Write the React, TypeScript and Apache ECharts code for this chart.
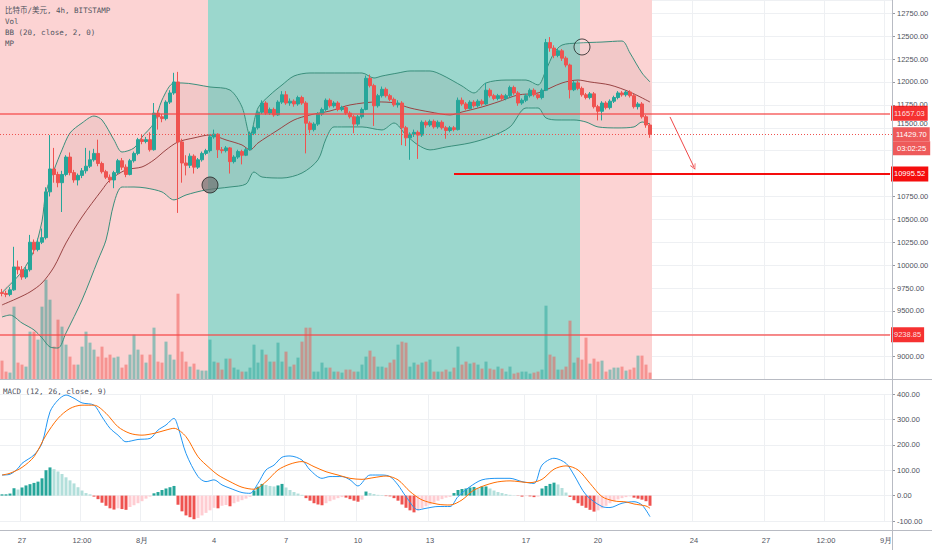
import React, { useEffect, useRef } from 'react';
import * as echarts from 'echarts';

// ---------- time axis (4h slots starting 2020-07-26 04:00) ----------
const START_UTC = Date.UTC(2020, 6, 26, 4);
const SLOT_COUNT = 223;
const CATEGORIES: string[] = Array.from({ length: SLOT_COUNT }, (_, i) => {
  const d = new Date(START_UTC + i * 4 * 3600 * 1000);
  return `${d.getUTCMonth() + 1}-${d.getUTCDate()} ${String(d.getUTCHours()).padStart(2, '0')}:00`;
});
const X_TICKS: [number, string][] = [
  [5, '27'], [20, '12:00'], [35, '8月'], [53, '4'], [71, '7'], [89, '10'], [107, '13'],
  [131, '17'], [149, '20'], [173, '24'], [191, '27'], [206, '12:00'], [221, '9月'],
];
// price ticks that sit fully under the price-tag boxes in the reference
const HIDDEN_PRICE_TICKS = [11000, 11250, 9250];
// price tick that peeks out just above a price tag
const LIFTED_PRICE_TICKS = [11500];

// ---------- candles: [open, close, low, high] ----------
const CANDLES: number[][] = [
  [9700, 9690, 9660, 9740], [9690, 9680, 9650, 9720], [9680, 9730, 9660, 9760], [9730, 9980, 9720, 10200],
  [9980, 9950, 9900, 10050], [9950, 9870, 9840, 9990], [9870, 9950, 9850, 9980], [9950, 10250, 9930, 10330],
  [10250, 10170, 10120, 10280], [10170, 10250, 10150, 10290], [10250, 10300, 10230, 10400], [10300, 10800, 10280, 10850],
  [10800, 11050, 10750, 11420], [11050, 10990, 10900, 11280], [10990, 10900, 10850, 11020], [10900, 10990, 10580, 11030],
  [10990, 11180, 10970, 11200], [11180, 11010, 10980, 11230], [11010, 10930, 10900, 11040], [10930, 10980, 10870, 11000],
  [10980, 11030, 10950, 11060], [11030, 11080, 11000, 11280], [11080, 11150, 11060, 11250], [11150, 11220, 11130, 11270],
  [11220, 11110, 11080, 11370], [11110, 11020, 11000, 11130], [11020, 10960, 10940, 11040], [10960, 10930, 10900, 10990],
  [10930, 11010, 10840, 11030], [11010, 11140, 10990, 11160], [11140, 11070, 11040, 11170], [11070, 10990, 10960, 11100],
  [10990, 11140, 10980, 11160], [11140, 11220, 11120, 11240], [11220, 11370, 11200, 11390], [11370, 11350, 11320, 11430],
  [11350, 11370, 11330, 11400], [11370, 11260, 11240, 11450], [11260, 11660, 11250, 11770], [11660, 11620, 11480, 11690],
  [11620, 11600, 11560, 11650], [11600, 11780, 11580, 11800], [11780, 11880, 11760, 11910], [11880, 12000, 11860, 12100],
  [12000, 11345, 10570, 12110], [11345, 11115, 10900, 11380], [11115, 11090, 10980, 11200], [11090, 11190, 11060, 11220],
  [11190, 11070, 11000, 11210], [11070, 11150, 11050, 11170], [11150, 11220, 11130, 11240], [11220, 11250, 11200, 11270],
  [11250, 11400, 11230, 11420], [11400, 11430, 11380, 11480], [11430, 11260, 11170, 11440], [11260, 11250, 11220, 11290],
  [11250, 11280, 11230, 11300], [11280, 11130, 11000, 11290], [11130, 11180, 11110, 11200], [11180, 11240, 11160, 11260],
  [11240, 11200, 11100, 11260], [11200, 11260, 11190, 11280], [11260, 11440, 11250, 11460], [11440, 11500, 11420, 11520],
  [11500, 11670, 11480, 11690], [11670, 11770, 11650, 11800], [11770, 11660, 11640, 11790], [11660, 11700, 11640, 11720],
  [11700, 11640, 11620, 11720], [11640, 11780, 11630, 11800], [11780, 11860, 11760, 11900], [11860, 11770, 11750, 11900],
  [11770, 11790, 11740, 11820], [11790, 11760, 11730, 11810], [11760, 11830, 11740, 11850], [11830, 11770, 11750, 11850],
  [11770, 11550, 11220, 11790], [11550, 11480, 11440, 11570], [11480, 11540, 11460, 11560], [11540, 11650, 11520, 11670],
  [11650, 11700, 11630, 11720], [11700, 11800, 11680, 11820], [11800, 11740, 11720, 11820], [11740, 11770, 11720, 11790],
  [11770, 11700, 11680, 11790], [11700, 11720, 11680, 11740], [11720, 11660, 11640, 11740], [11660, 11620, 11600, 11680],
  [11620, 11540, 11440, 11640], [11540, 11620, 11520, 11640], [11620, 11700, 11600, 11720], [11700, 12040, 11690, 12070],
  [12040, 11960, 11940, 12080], [11960, 11740, 11520, 11980], [11740, 11850, 11720, 11870], [11850, 11920, 11830, 11950],
  [11920, 11850, 11830, 11940], [11850, 11810, 11790, 11870], [11810, 11750, 11730, 11830], [11750, 11770, 11720, 11800],
  [11770, 11500, 11310, 11790], [11500, 11390, 11300, 11520], [11390, 11430, 11150, 11450], [11430, 11450, 11400, 11480],
  [11450, 11420, 11160, 11470], [11420, 11560, 11400, 11580], [11560, 11530, 11500, 11580], [11530, 11570, 11510, 11590],
  [11570, 11510, 11490, 11590], [11510, 11560, 11490, 11580], [11560, 11500, 11480, 11580], [11500, 11470, 11380, 11520],
  [11470, 11500, 11450, 11520], [11500, 11480, 11460, 11520], [11480, 11800, 11470, 11830], [11800, 11760, 11740, 11830],
  [11760, 11710, 11690, 11780], [11710, 11780, 11700, 11800], [11780, 11740, 11720, 11800], [11740, 11790, 11720, 11810],
  [11790, 11760, 11740, 11810], [11760, 11910, 11750, 11990], [11910, 11850, 11830, 11930], [11850, 11820, 11800, 11870],
  [11820, 11850, 11800, 11870], [11850, 11820, 11800, 11870], [11820, 11850, 11800, 11870], [11850, 11940, 11830, 11960],
  [11940, 11880, 11860, 11960], [11880, 11770, 11740, 11900], [11770, 11800, 11750, 11820], [11800, 11850, 11780, 11870],
  [11850, 11910, 11830, 11930], [11910, 11860, 11840, 11930], [11860, 11830, 11810, 11880], [11830, 11910, 11810, 11930],
  [11910, 12430, 11900, 12470], [12430, 12370, 12330, 12490], [12370, 12290, 12260, 12400], [12290, 12340, 12270, 12360],
  [12340, 12260, 12230, 12360], [12260, 12185, 12160, 12280], [12185, 11915, 11820, 12200], [11915, 11990, 11900, 12010],
  [11990, 11930, 11910, 12010], [11930, 11860, 11840, 11950], [11860, 11830, 11810, 11880], [11830, 11870, 11810, 11890],
  [11870, 11730, 11710, 11890], [11730, 11680, 11580, 11750], [11680, 11770, 11580, 11790], [11770, 11720, 11700, 11790],
  [11720, 11790, 11700, 11810], [11790, 11830, 11770, 11850], [11830, 11880, 11810, 11900], [11880, 11860, 11840, 11900],
  [11860, 11890, 11840, 11910], [11890, 11850, 11830, 11910], [11850, 11730, 11710, 11870], [11730, 11760, 11700, 11780],
  [11760, 11620, 11600, 11780], [11620, 11530, 11500, 11640], [11530, 11429.7, 11390, 11550],
];

// ---------- volume (BTC) ----------
const VOLUME: number[] = [
  475, 200, 175, 1825, 425, 375, 325, 1200, 1200, 1000,
  1825, 2500, 2000, 825, 1500, 1325, 875, 575, 375, 375,
  825, 1200, 925, 750, 575, 825, 550, 625, 550, 575,
  300, 375, 625, 1125, 750, 625, 425, 625, 1300, 450,
  425, 950, 625, 500, 2150, 700, 450, 325, 400, 250,
  225, 225, 1000, 450, 425, 250, 525, 525, 300, 250,
  200, 200, 300, 875, 425, 750, 625, 450, 450, 925,
  450, 700, 325, 375, 550, 950, 1300, 1300, 200, 200,
  425, 300, 300, 200, 200, 175, 250, 250, 200, 200,
  375, 575, 725, 575, 325, 325, 300, 425, 500, 875,
  950, 925, 325, 425, 375, 425, 450, 500, 200, 200,
  200, 250, 200, 300, 825, 375, 450, 400, 425, 375,
  275, 450, 275, 250, 325, 275, 200, 325, 150, 175,
  200, 200, 150, 175, 200, 250, 1850, 625, 575, 250,
  250, 325, 1475, 425, 550, 500, 1050, 400, 525, 450,
  475, 200, 250, 300, 300, 325, 225, 250, 300, 600,
  600, 375, 175,
];

// ---------- Bollinger bands (20, close, 2), read as [slot, price] ----------
const BB_UPPER: number[][] = [
  [0, 9700], [5, 9930], [8, 10160], [10, 10480], [11, 10800], [13, 11040], [15, 11258], [17, 11443],
  [20, 11552], [23, 11628], [25, 11585], [28, 11367], [30, 11235], [33, 11279], [35, 11399], [38, 11552],
  [40, 11803], [43, 11989], [45, 11989], [52, 11945], [57, 11912], [60, 11727], [62, 11421], [64, 11716],
  [67, 11858], [70, 11967], [73, 12065], [77, 12098], [82, 12098], [87, 12098], [90, 12098], [93, 12043],
  [95, 12065], [99, 12098], [102, 12120], [107, 12120], [110, 12076], [115, 11956], [118, 11880], [121, 11989],
  [126, 12021], [131, 12021], [134, 11967], [136, 12130], [138, 12316], [140, 12403], [144, 12425], [150, 12436],
  [155, 12447], [157, 12316], [160, 12098], [162, 12000],
];
const BB_MID: number[][] = [
  [0, 9565], [4, 9641], [7, 9707], [10, 9805], [13, 9980], [16, 10242], [20, 10526], [25, 10821],
  [27, 10930], [31, 11040], [35, 11072], [38, 11149], [41, 11258], [44, 11345], [48, 11389], [52, 11421],
  [56, 11367], [60, 11312], [62, 11258], [64, 11334], [69, 11476], [73, 11585], [77, 11640], [82, 11683],
  [87, 11749], [94, 11782], [98, 11771], [102, 11716], [107, 11672], [112, 11640], [115, 11672], [120, 11727],
  [124, 11782], [129, 11858], [134, 11880], [140, 11989], [144, 12021], [147, 12000], [152, 11967], [157, 11890],
  [162, 11781],
];
const BB_LOWER: number[][] = [
  [0, 9434], [2, 9455], [5, 9368], [8, 9292], [10, 9205], [12, 9106], [14, 9095], [16, 9259],
  [20, 9619], [24, 10056], [26, 10274], [28, 10678], [30, 10853], [33, 10853], [36, 10842], [40, 10799],
  [43, 10712], [46, 10766], [51, 10821], [57, 10853], [61, 10886], [63, 11017], [65, 10962], [70, 10951],
  [75, 11006], [79, 11150], [81, 11380], [83, 11509], [87, 11509], [90, 11509], [95, 11476], [98, 11552],
  [101, 11421], [104, 11312], [107, 11258], [111, 11290], [117, 11334], [122, 11399], [127, 11509], [131, 11716],
  [134, 11716], [136, 11607], [139, 11585], [143, 11585], [146, 11563], [149, 11509], [154, 11498], [158, 11509],
  [160, 11563], [162, 11540],
];

// ---------- MACD (12, 26, close, 9) ----------
const MACD_LINE: number[][] = [
  [0, 81], [2, 84], [4, 107], [5, 127], [8, 160], [10, 206], [12, 330], [14, 376], [16, 396], [18, 383],
  [20, 365], [23, 356], [25, 310], [27, 265], [29, 238], [31, 212], [34, 221], [37, 225], [39, 258], [41, 278],
  [43, 304], [44, 271], [46, 166], [49, 75], [51, 55], [53, 62], [55, 42], [57, 29], [60, 12], [62, 9],
  [64, 48], [66, 101], [68, 120], [70, 151], [72, 156], [75, 140], [77, 101], [80, 68], [82, 75], [85, 75],
  [87, 62], [89, 38], [92, 81], [95, 81], [97, 75], [99, 42], [101, -4], [104, -56], [106, -50], [109, -43],
  [112, -43], [114, -4], [117, 35], [120, 62], [124, 68], [127, 68], [130, 55], [133, 48], [135, 120], [138, 147],
  [141, 127], [143, 81], [146, 3], [150, -43], [152, -47], [155, -30], [158, -24], [160, -37], [162, -83],
];
const SIGNAL_LINE: number[][] = [
  [0, 81], [2, 88], [5, 111], [8, 153], [11, 238], [14, 304], [17, 343], [20, 356], [23, 356], [26, 324],
  [29, 271], [32, 245], [35, 238], [38, 245], [41, 258], [43, 265], [46, 232], [49, 153], [52, 107], [54, 81],
  [57, 55], [60, 33], [63, 25], [66, 55], [69, 101], [72, 124], [75, 134], [78, 114], [81, 94], [84, 81],
  [87, 68], [90, 64], [93, 71], [96, 77], [99, 62], [102, 16], [105, -17], [109, -34], [112, -37], [115, -17],
  [118, 22], [123, 51], [127, 58], [132, 51], [135, 64], [138, 104], [141, 117], [144, 101], [147, 48], [150, -4],
  [153, -21], [156, -25], [158, -33], [161, -41], [162, -50],
];
const MACD_HIST: number[] = [
  5, 5, 8, 29, 24, 32, 40, 45, 50, 55,
  68, 100, 111, 104, 95, 85, 72, 60, 48, 33,
  20, 10, 5, -4, -14, -28, -40, -50, -55, -50,
  -53, -56, -45, -38, -30, -22, -12, -4, 9, 14,
  22, 28, 33, 38, -36, -62, -78, -85, -93, -88,
  -78, -68, -58, -48, -50, -40, -37, -42, -30, -24,
  -18, -12, -5, 20, 35, 46, 42, 38, 36, 40,
  46, 32, 22, 14, 8, 3, -10, -20, -30, -35,
  -38, -30, -22, -16, -10, -6, -8, -14, -20, -24,
  -16, 16, 10, 6, 3, 2, -2, -3, -10, -20,
  -35, -48, -58, -66, -58, -50, -42, -35, -28, -20,
  -14, -8, -5, 10, 22, 26, 28, 32, 34, 30,
  36, 36, 28, 20, 14, 10, 6, 3, 1, -1,
  -4, -2, -3, -6, -4, 28, 38, 46, 51, 44,
  30, 12, -5, -18, -30, -40, -48, -56, -63, -58,
  -50, -40, -30, -22, -15, -10, -6, -3, -8, -12,
  -16, -22, -40,
];

// ---------- annotations ----------
const REGIONS: { from: number; to: number; kind: 'sell' | 'buy' }[] = [
  { from: 0, to: 51, kind: 'sell' },
  { from: 52, to: 144, kind: 'buy' },
  { from: 145, to: 162, kind: 'sell' },
];
const RESISTANCE = 11657.03;
const SUPPORT = 9238.85;
const TARGET = 10995.52;
const TARGET_FROM = 113;
const TARGET_TO = 222;
const LAST_PRICE = 11429.7;
const COUNTDOWN = '03:02:25';
const ARROW_FROM = [167, 11618];
const ARROW_TO = [173, 11070];
const MARKERS: { slot: number; price: number; kind: 'filled' | 'hollow' }[] = [
  { slot: 52, price: 10875, kind: 'filled' },
  { slot: 145, price: 12382, kind: 'hollow' },
];
const LEGEND_LINES = ['比特币/美元, 4h, BITSTAMP', 'Vol', 'BB (20, close, 2, 0)', 'MP'];
const MACD_LEGEND = 'MACD (12, 26, close, 9)';

// ---------- styling ----------
const UP = '#26a69a';
const DOWN = '#ef5350';
const PINK = '#fcd3d3';
const TEAL = '#9bd7cd';
const TXT = '#50535e';
const GRIDLINE = '#eef0f3';
const LEVEL_LINE = '#f54a4a';
const TAG_RED = '#f50d0d';
const FONT = '"Liberation Sans", Arial, sans-serif';
const MONO = '"DejaVu Sans Mono", "Noto Sans CJK SC", monospace';
const CHEVRON = 'path://M0 10 L5 0 L10 10 L8.6 10 L5 2.8 L1.4 10 Z';

function priceBox(text: string, bg: string) {
  return {
    show: true,
    position: 'end',
    distance: 1,
    formatter: text,
    backgroundColor: bg,
    color: '#fff',
    fontSize: 7.5,
    fontFamily: FONT,
    padding: [4, 3, 3, 3],
  };
}

function levelLine(value: number) {
  const ls = { color: LEVEL_LINE, width: 1.5, type: 'solid', opacity: 0.85 };
  return [
    { coord: [0, value], x: 0, lineStyle: ls, label: priceBox(value.toFixed(2), TAG_RED) },
    { coord: [TARGET_TO, value], lineStyle: ls, label: priceBox(value.toFixed(2), TAG_RED) },
  ];
}

export default function App() {
  const ref = useRef<HTMLDivElement>(null);

  useEffect(() => {
    if (!ref.current) return;
    const chart = echarts.init(ref.current, undefined, { renderer: 'svg' });
    const tickMap = new Map<number, string>(X_TICKS);

    const volumeData = VOLUME.map((v, i) => {
      const c = CANDLES[i];
      const up = c[1] >= c[0];
      return { value: v, itemStyle: { color: up ? 'rgba(38,166,154,0.5)' : 'rgba(239,83,80,0.5)' } };
    });
    const histData = MACD_HIST.map((v, i) => {
      const prev = i > 0 ? MACD_HIST[i - 1] : v;
      let color;
      if (v >= 0) color = v >= prev ? '#26a69a' : '#b2dfdb';
      else color = v <= prev ? '#ef5350' : '#ffcdd2';
      return { value: v, itemStyle: { color } };
    });

    const option: any = {
      animation: false,
      textStyle: { fontFamily: FONT },
      grid: [
        { left: 0, top: 0, width: 892, height: 379.6 },
        { left: 0, top: 394, width: 892, height: 127 },
      ],
      xAxis: [
        {
          type: 'category', gridIndex: 0, data: CATEGORIES, boundaryGap: true,
          axisLine: { show: false }, axisTick: { show: false }, axisLabel: { show: false },
          splitLine: { show: true, interval: (i: number) => tickMap.has(i), lineStyle: { color: GRIDLINE } },
        },
        {
          type: 'category', gridIndex: 1, data: CATEGORIES, boundaryGap: true,
          axisLine: { show: false }, axisTick: { show: false },
          axisLabel: {
            interval: (i: number) => tickMap.has(i),
            formatter: (_v: string, i: number) => tickMap.get(i) || '',
            margin: 15, fontSize: 7.5, color: TXT,
          },
          splitLine: { show: true, interval: (i: number) => tickMap.has(i), lineStyle: { color: GRIDLINE } },
        },
      ],
      yAxis: [
        {
          type: 'value', gridIndex: 0, position: 'right', min: 8750, max: 12895, interval: 250,
          axisLine: { show: false },
          axisTick: { show: true, length: 3, lineStyle: { color: '#9598a1' } },
          axisLabel: {
            fontSize: 7.5, color: TXT, margin: 5,
            formatter: (v: number) => {
              if (HIDDEN_PRICE_TICKS.includes(v)) return '';
              if (LIFTED_PRICE_TICKS.includes(v)) return `{lift|${v.toFixed(2)}}`;
              return v.toFixed(2);
            },
            rich: { lift: { fontSize: 7.5, color: TXT, padding: [0, 0, 9, 0] } },
            showMinLabel: false, showMaxLabel: false,
          },
          splitLine: { show: true, lineStyle: { color: GRIDLINE, width: 1 } },
        },
        { type: 'value', gridIndex: 0, min: 0, max: 9500, show: false, splitLine: { show: false } },
        {
          type: 'value', gridIndex: 1, position: 'right', min: -100, max: 400, interval: 100,
          axisLine: { show: false },
          axisTick: { show: true, length: 3, lineStyle: { color: '#9598a1' } },
          axisLabel: { fontSize: 7.5, color: TXT, margin: 5, formatter: (v: number) => v.toFixed(2) },
          splitLine: { show: true, lineStyle: { color: GRIDLINE, width: 1 } },
        },
      ],
      graphic: [
        ...LEGEND_LINES.map((t, k) => ({
          type: 'text', x: 5, y: [10.7, 21.7, 32.8, 43.3][k], z: 20,
          style: { text: t, fontSize: 7.5, fill: TXT, fontFamily: MONO, verticalAlign: 'middle' },
        })),
        {
          type: 'text', x: 3, y: 391, z: 20,
          style: { text: MACD_LEGEND, fontSize: 7.5, fill: TXT, fontFamily: MONO, verticalAlign: 'middle' },
        },
        { type: 'line', z: 20, shape: { x1: 0, y1: 379.5, x2: 932, y2: 379.5 }, style: { stroke: '#b8bbc3', lineWidth: 1 } },
        { type: 'line', z: 20, shape: { x1: 0, y1: 530.5, x2: 932, y2: 530.5 }, style: { stroke: '#b8bbc3', lineWidth: 1 } },
        { type: 'line', z: 20, shape: { x1: 892.5, y1: 0, x2: 892.5, y2: 550 }, style: { stroke: '#b8bbc3', lineWidth: 1 } },
      ],
      series: [
        {
          type: 'custom', name: 'regions', xAxisIndex: 0, yAxisIndex: 0, z: 1, silent: true,
          encode: { x: [0, 1] },
          data: REGIONS.map((r) => ({ value: [r.from, r.to], itemStyle: { color: r.kind === 'sell' ? PINK : TEAL } })),
          renderItem: (params: any, api: any) => {
            const a = api.coord([api.value(0), 10000]);
            const b = api.coord([api.value(1), 10000]);
            const bw = api.size([1, 0])[0];
            const cs = params.coordSys;
            return {
              type: 'rect',
              shape: { x: a[0] - bw / 2, y: cs.y, width: b[0] - a[0] + bw, height: cs.height },
              style: { fill: api.visual('color') },
            };
          },
        },
        {
          type: 'bar', name: 'Vol', xAxisIndex: 0, yAxisIndex: 1, z: 2, silent: true,
          barCategoryGap: '25%', data: volumeData,
        },
        {
          type: 'custom', name: 'bbfill', xAxisIndex: 0, yAxisIndex: 0, z: 3, silent: true,
          data: [[0, 10000]],
          renderItem: (_params: any, api: any) => {
            const pts = BB_UPPER.map((p) => api.coord(p)).concat(
              BB_LOWER.slice().reverse().map((p) => api.coord(p)),
            );
            return { type: 'polygon', shape: { points: pts, smooth: 0.3 }, style: { fill: 'rgba(120,60,60,0.07)' } };
          },
        },
        {
          type: 'line', name: 'upper', xAxisIndex: 0, yAxisIndex: 0, z: 3, data: BB_UPPER, smooth: 0.3,
          symbol: 'none', lineStyle: { color: '#3a8f7c', width: 1 }, silent: true,
        },
        {
          type: 'line', name: 'lower', xAxisIndex: 0, yAxisIndex: 0, z: 3, data: BB_LOWER, smooth: 0.3,
          symbol: 'none', lineStyle: { color: '#3a8f7c', width: 1 }, silent: true,
        },
        {
          type: 'line', name: 'basis', xAxisIndex: 0, yAxisIndex: 0, z: 3, data: BB_MID, smooth: 0.3,
          symbol: 'none', lineStyle: { color: '#9a4444', width: 1 }, silent: true,
        },
        {
          type: 'candlestick', name: 'BTCUSD', xAxisIndex: 0, yAxisIndex: 0, z: 4, silent: true,
          barWidth: 3, data: CANDLES,
          itemStyle: { color: UP, color0: DOWN, borderColor: UP, borderColor0: DOWN, borderWidth: 1 },
          markLine: {
            silent: true, symbol: 'none', animation: false,
            data: [
              levelLine(RESISTANCE),
              levelLine(SUPPORT),
              {
                yAxis: LAST_PRICE, lineStyle: { color: '#ef5350', width: 1, type: [1, 2] },
                label: {
                  show: true, position: 'end', distance: 1,
                  formatter: `{e| }\n{a|${LAST_PRICE.toFixed(2)}}\n{b|${COUNTDOWN}}`,
                  rich: {
                    e: { height: 14, fontSize: 7.5 },
                    a: { backgroundColor: '#ee5a5a', color: '#fff', fontSize: 7.5, height: 10, padding: [2, 3, 2, 3], fontFamily: FONT },
                    b: { backgroundColor: '#ee5a5a', color: '#fff', fontSize: 7.5, height: 10, padding: [2, 4, 2, 4], fontFamily: FONT },
                  },
                },
              },
              [
                { coord: [TARGET_FROM, TARGET], lineStyle: { color: TAG_RED, width: 2, type: 'solid' }, label: priceBox(TARGET.toFixed(2), TAG_RED) },
                { coord: [TARGET_TO, TARGET], lineStyle: { color: TAG_RED, width: 2, type: 'solid' }, label: priceBox(TARGET.toFixed(2), TAG_RED) },
              ],
              [
                { coord: ARROW_FROM, symbol: 'none', lineStyle: { color: '#f04848', width: 1, type: 'solid' }, label: { show: false } },
                { coord: ARROW_TO, symbol: CHEVRON, symbolSize: [6, 6], lineStyle: { color: '#f04848', width: 1, type: 'solid' }, label: { show: false } },
              ],
            ],
          },
        },
        {
          type: 'scatter', name: 'markers', xAxisIndex: 0, yAxisIndex: 0, z: 6, silent: true,
          symbolSize: 16,
          data: MARKERS.map((m) => ({
            value: [m.slot, m.price],
            itemStyle: m.kind === 'filled'
              ? { color: 'rgba(110,110,110,0.85)', borderColor: '#222', borderWidth: 1 }
              : { color: 'rgba(255,255,255,0.15)', borderColor: '#222', borderWidth: 1 },
          })),
        },
        {
          type: 'bar', name: 'Histogram', xAxisIndex: 1, yAxisIndex: 2, z: 2, silent: true,
          barCategoryGap: '25%', data: histData,
        },
        {
          type: 'line', name: 'MACD', xAxisIndex: 1, yAxisIndex: 2, z: 3, data: MACD_LINE, smooth: 0.3,
          symbol: 'none', lineStyle: { color: '#2196f3', width: 1 }, silent: true,
        },
        {
          type: 'line', name: 'Signal', xAxisIndex: 1, yAxisIndex: 2, z: 3, data: SIGNAL_LINE, smooth: 0.3,
          symbol: 'none', lineStyle: { color: '#ff6d00', width: 1 }, silent: true,
        },
      ],
    };

    chart.setOption(option);
    return () => chart.dispose();
  }, []);

  return (
    <div
      ref={ref}
      style={{ position: 'fixed', left: 0, top: 0, width: 932, height: 550, background: '#fff' }}
    />
  );
}
